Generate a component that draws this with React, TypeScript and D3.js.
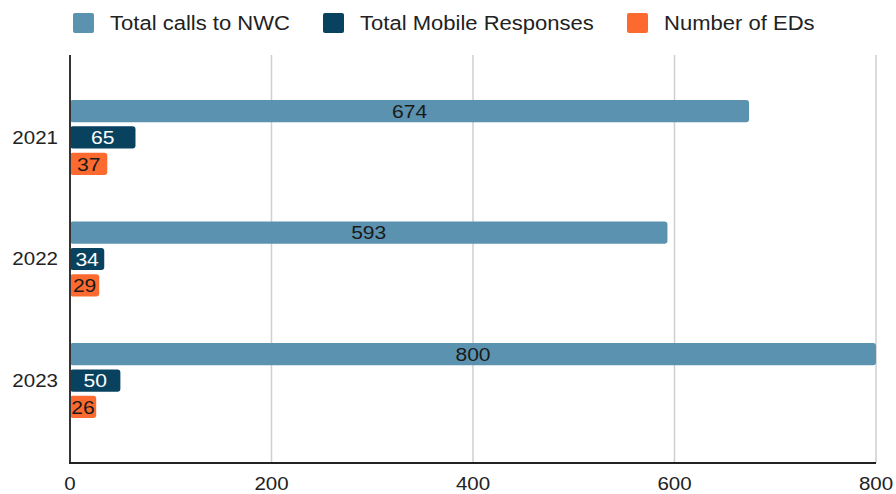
import React from "react";
import * as d3 from "d3";

const years = ["2021", "2022", "2023"];
const seriesNames = ["Total calls to NWC", "Total Mobile Responses", "Number of EDs"];
const totalCalls = [674, 593, 800];
const mobileResponses = [65, 34, 50];
const numberOfEDs = [37, 29, 26];
const xTicks = [0, 200, 400, 600, 800];

const colors = ["#5a92b0", "#08425e", "#fd6a30"];
const labelColors = ["#1a1a1a", "#ffffff", "#1a1a1a"];

const W = 896;
const H = 494;
const plot = { left: 70, right: 876, top: 55, bottom: 463 };
const FONT = "'Liberation Sans', Arial, sans-serif";
const SX = 1.14;

function Txt({ x, y, anchor = "start", size = 18, fill = "#222", sx = SX, children }: any) {
  return (
    <text
      transform={`translate(${x},${y}) scale(${sx},1)`}
      dy="0.36em"
      textAnchor={anchor}
      fontSize={size}
      fill={fill}
    >
      {children}
    </text>
  );
}

export default function App() {
  const values = [totalCalls, mobileResponses, numberOfEDs];
  const x = d3.scaleLinear().domain([0, 800]).range([plot.left, plot.right]);
  const y = d3
    .scaleBand<string>()
    .domain(years)
    .range([plot.top, plot.bottom])
    .paddingInner(0.383)
    .paddingOuter(0.37);
  const inner = d3
    .scaleBand<string>()
    .domain(seriesNames)
    .range([0, y.bandwidth()])
    .paddingInner(0.16);

  const legendX = [73, 323, 627];

  return (
    <svg
      width={W}
      height={H}
      style={{ position: "absolute", left: 0, top: 0, background: "#fff" }}
      fontFamily={FONT}
    >
      <rect x={0} y={0} width={W} height={H} fill="#fff" />
      {/* legend */}
      {seriesNames.map((s, i) => (
        <g key={s}>
          <rect x={legendX[i]} y={13} width={21} height={20} rx={2} fill={colors[i]} />
          <Txt x={legendX[i] + 37} y={23} size={19.5} sx={1.13}>
            {s}
          </Txt>
        </g>
      ))}
      {/* grid */}
      {xTicks.slice(1).map((t) => (
        <line
          key={t}
          x1={x(t)}
          x2={x(t)}
          y1={plot.top}
          y2={plot.bottom}
          stroke="#cfcfcf"
          strokeWidth={1.5}
        />
      ))}
      {/* bars */}
      {years.map((yr, yi) => (
        <g key={yr} transform={`translate(0,${y(yr)})`}>
          {seriesNames.map((s, si) => {
            const v = values[si][yi];
            const by = inner(s)!;
            const bh = inner.bandwidth();
            const bw = x(v) - x(0);
            return (
              <g key={s}>
                <rect x={x(0)} y={by} width={bw} height={bh} rx={3} fill={colors[si]} />
                <Txt x={x(0) + bw / 2} y={by + bh / 2} anchor="middle" size={18.5} fill={labelColors[si]}>
                  {v}
                </Txt>
              </g>
            );
          })}
        </g>
      ))}
      {/* y labels */}
      {years.map((yr) => (
        <Txt key={yr} x={58} y={y(yr)! + y.bandwidth() / 2} anchor="end" size={18}>
          {yr}
        </Txt>
      ))}
      {/* axes */}
      <line x1={plot.left} x2={plot.left} y1={plot.top} y2={plot.bottom} stroke="#333" strokeWidth={2} />
      <line x1={plot.left - 1} x2={plot.right} y1={plot.bottom} y2={plot.bottom} stroke="#222" strokeWidth={2} />
      {xTicks.map((t) => (
        <Txt key={t} x={x(t)} y={484} anchor="middle" size={18}>
          {t}
        </Txt>
      ))}
    </svg>
  );
}
